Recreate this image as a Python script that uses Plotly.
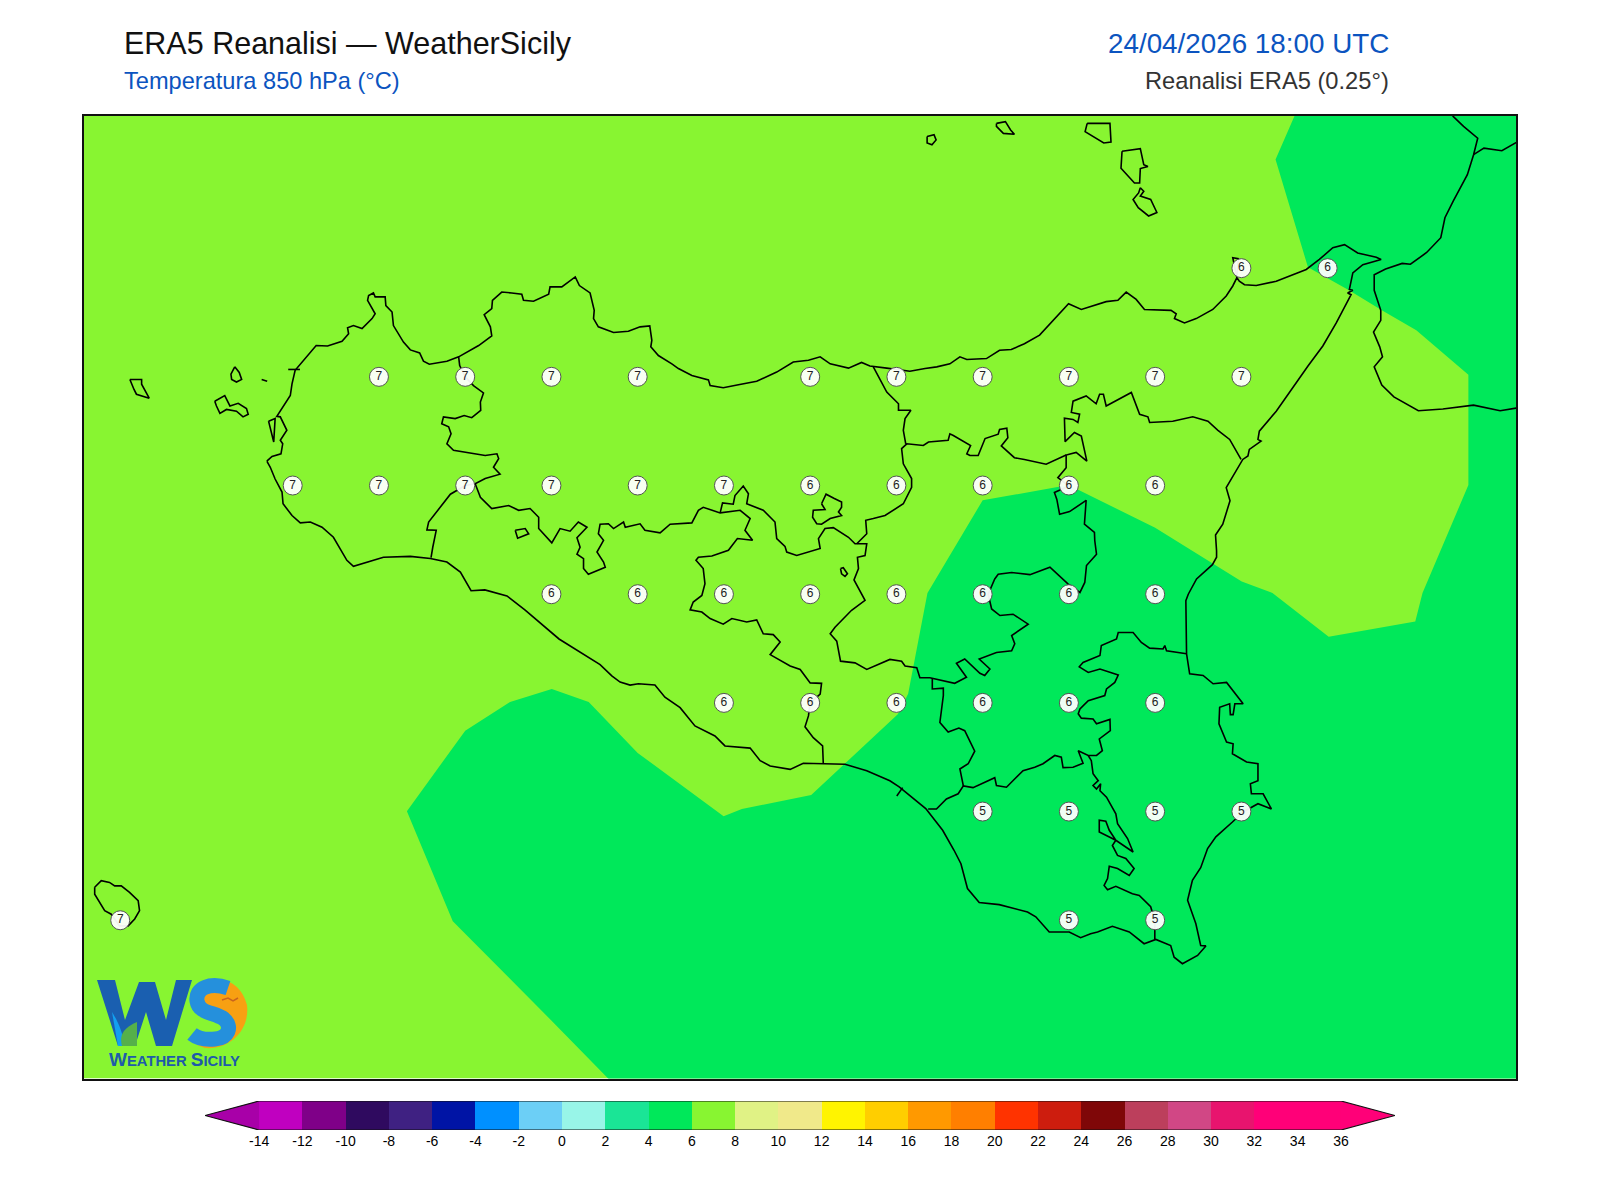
import plotly.graph_objects as go

# ===== DATA =====
# Grid point values (ERA5 0.25 deg), temperature at 850 hPa
label_lon = [15.25, 15.5,
             12.75, 13.0, 13.25, 13.5, 14.0, 14.25, 14.5, 14.75, 15.0, 15.25,
             12.5, 12.75, 13.0, 13.25, 13.5, 13.75, 14.0, 14.25, 14.5, 14.75, 15.0,
             13.25, 13.5, 13.75, 14.0, 14.25, 14.5, 14.75, 15.0,
             13.75, 14.0, 14.25, 14.5, 14.75, 15.0,
             14.5, 14.75, 15.0, 15.25,
             12.0, 14.75, 15.0]
label_lat = [38.25, 38.25,
             38.0, 38.0, 38.0, 38.0, 38.0, 38.0, 38.0, 38.0, 38.0, 38.0,
             37.75, 37.75, 37.75, 37.75, 37.75, 37.75, 37.75, 37.75, 37.75, 37.75, 37.75,
             37.5, 37.5, 37.5, 37.5, 37.5, 37.5, 37.5, 37.5,
             37.25, 37.25, 37.25, 37.25, 37.25, 37.25,
             37.0, 37.0, 37.0, 37.0,
             36.75, 36.75, 36.75]
label_val = [6, 6,
             7, 7, 7, 7, 7, 7, 7, 7, 7, 7,
             7, 7, 7, 7, 7, 7, 6, 6, 6, 6, 6,
             6, 6, 6, 6, 6, 6, 6, 6,
             6, 6, 6, 6, 6, 6,
             5, 5, 5, 5,
             7, 5, 5]

# Colour scale
scale_ticks = [-14, -12, -10, -8, -6, -4, -2, 0, 2, 4, 6, 8, 10, 12, 14, 16, 18, 20, 22, 24, 26, 28, 30, 32, 34, 36]
scale_colors = ["#C000C0", "#7F0088", "#2F0A5F", "#3F2182", "#0014A5", "#0090FF", "#6CCFF6", "#98F5E8",
                "#1AE596", "#00E85A", "#88F531", "#E0F285", "#F0E98A", "#FFF400", "#FFCE00", "#FF9900",
                "#FF7F00", "#FF3300", "#CD1D0E", "#7F0708", "#BC3F5C", "#D14785", "#E8146E", "#FF0078", "#FF0078"]
under_color = "#A800A8"
over_color = "#FF0078"

# Map extent
lon_range = [11.895, 16.046]
lat_range = [36.386, 38.600]

# Filled contour 4-6 degC, the rest of the map is in the 6-8 band
contour_4_6 = [(13.423, 36.379), (13.249, 36.520), (12.964, 36.748), (12.831, 37.001), (13.0, 37.186), (13.130, 37.252),
               (13.251, 37.282), (13.358, 37.252), (13.5, 37.135), (13.749, 36.989), (13.802, 37.006), (14.003, 37.038),
               (14.254, 37.224), (14.284, 37.271), (14.340, 37.503), (14.5, 37.716), (14.749, 37.751), (15.0, 37.653),
               (15.251, 37.529), (15.340, 37.503), (15.503, 37.402), (15.754, 37.437), (15.775, 37.503), (15.908, 37.751),
               (15.908, 38.005), (15.757, 38.107), (15.657, 38.153), (15.562, 38.199), (15.443, 38.252), (15.349, 38.500),
               (15.405, 38.602), (16.052, 38.602), (16.052, 36.379), (13.423, 36.379)]

# Sicily coastline
sicily = [(12.425, 37.806), (12.440, 37.817), (12.466, 37.823), (12.471, 37.846), (12.464, 37.854), (12.483, 37.877),
          (12.464, 37.908), (12.454, 37.909), (12.493, 37.957), (12.498, 37.984), (12.507, 38.015), (12.527, 38.034),
          (12.568, 38.072), (12.601, 38.071), (12.643, 38.082), (12.662, 38.099), (12.659, 38.113), (12.676, 38.118),
          (12.701, 38.111), (12.730, 38.134), (12.739, 38.145), (12.717, 38.176), (12.720, 38.187), (12.734, 38.193),
          (12.739, 38.184), (12.768, 38.184), (12.770, 38.164), (12.788, 38.149), (12.792, 38.118), (12.821, 38.080),
          (12.841, 38.062), (12.868, 38.055), (12.879, 38.036), (12.896, 38.029), (12.947, 38.036), (12.981, 38.046),
          (13.039, 38.072), (13.077, 38.094), (13.073, 38.115), (13.055, 38.143), (13.077, 38.157), (13.079, 38.176),
          (13.106, 38.195), (13.135, 38.193), (13.164, 38.190), (13.169, 38.176), (13.198, 38.174), (13.242, 38.190),
          (13.246, 38.207), (13.280, 38.207), (13.319, 38.230), (13.331, 38.210), (13.362, 38.193), (13.374, 38.153),
          (13.372, 38.134), (13.386, 38.115), (13.430, 38.102), (13.473, 38.105), (13.507, 38.115), (13.535, 38.117),
          (13.541, 38.084), (13.538, 38.069), (13.560, 38.049), (13.599, 38.030), (13.618, 38.019), (13.657, 38.003),
          (13.705, 37.993), (13.710, 37.980), (13.748, 37.975), (13.792, 37.982), (13.845, 37.990), (13.903, 38.011),
          (13.951, 38.034), (13.995, 38.038), (14.029, 38.046), (14.058, 38.030), (14.111, 38.020), (14.149, 38.033),
          (14.173, 38.025), (14.222, 38.020), (14.289, 38.013), (14.333, 38.019), (14.367, 38.023), (14.405, 38.030),
          (14.434, 38.046), (14.454, 38.040), (14.511, 38.042), (14.549, 38.061), (14.583, 38.063), (14.621, 38.076),
          (14.665, 38.096), (14.749, 38.168), (14.786, 38.155), (14.858, 38.173), (14.892, 38.176), (14.916, 38.195),
          (14.945, 38.178), (14.969, 38.155), (15.046, 38.153), (15.061, 38.145), (15.056, 38.134), (15.085, 38.124),
          (15.119, 38.134), (15.167, 38.155), (15.206, 38.186), (15.225, 38.209), (15.237, 38.228), (15.225, 38.274),
          (15.241, 38.272), (15.237, 38.228), (15.244, 38.220), (15.259, 38.212), (15.293, 38.210), (15.351, 38.220),
          (15.438, 38.247), (15.476, 38.270), (15.515, 38.297), (15.549, 38.304), (15.587, 38.285), (15.641, 38.275),
          (15.655, 38.270), (15.602, 38.258), (15.573, 38.239), (15.563, 38.201), (15.573, 38.199), (15.558, 38.193),
          (15.568, 38.189), (15.525, 38.124), (15.486, 38.071), (15.443, 38.025), (15.351, 37.921), (15.302, 37.875),
          (15.298, 37.856), (15.307, 37.852), (15.273, 37.833), (15.269, 37.818), (15.254, 37.810), (15.206, 37.745),
          (15.217, 37.715), (15.196, 37.661), (15.175, 37.636), (15.178, 37.600), (15.178, 37.585), (15.166, 37.568),
          (15.120, 37.535), (15.096, 37.500), (15.089, 37.485), (15.091, 37.363), (15.100, 37.317), (15.139, 37.313),
          (15.168, 37.294), (15.207, 37.297), (15.255, 37.248), (15.231, 37.248), (15.226, 37.223), (15.218, 37.223),
          (15.216, 37.248), (15.187, 37.240), (15.185, 37.202), (15.207, 37.160), (15.226, 37.156), (15.224, 37.133),
          (15.265, 37.114), (15.298, 37.110), (15.298, 37.071), (15.276, 37.064), (15.279, 37.041), (15.313, 37.041),
          (15.337, 37.006), (15.298, 37.018), (15.255, 36.999), (15.224, 36.976), (15.176, 36.942), (15.152, 36.915),
          (15.132, 36.871), (15.108, 36.842), (15.094, 36.796), (15.118, 36.742), (15.132, 36.692), (15.147, 36.691),
          (15.123, 36.669), (15.079, 36.650), (15.055, 36.665), (15.045, 36.692), (15.002, 36.706), (14.968, 36.696),
          (14.925, 36.723), (14.876, 36.736), (14.833, 36.723), (14.813, 36.719), (14.784, 36.710), (14.751, 36.723),
          (14.693, 36.723), (14.654, 36.758), (14.630, 36.769), (14.548, 36.786), (14.490, 36.791), (14.456, 36.823),
          (14.437, 36.880), (14.417, 36.911), (14.384, 36.957), (14.335, 37.007), (14.258, 37.057), (14.231, 37.071),
          (14.164, 37.094), (14.101, 37.109), (14.038, 37.110), (13.980, 37.111), (13.942, 37.097), (13.917, 37.101),
          (13.884, 37.105), (13.855, 37.117), (13.826, 37.146), (13.753, 37.151), (13.724, 37.174), (13.666, 37.197),
          (13.623, 37.239), (13.579, 37.263), (13.550, 37.291), (13.502, 37.294), (13.478, 37.291), (13.449, 37.298),
          (13.425, 37.312), (13.391, 37.338), (13.272, 37.397), (13.173, 37.464), (13.121, 37.496), (13.057, 37.510),
          (13.017, 37.508), (12.986, 37.551), (12.947, 37.574), (12.899, 37.582), (12.841, 37.587), (12.763, 37.585),
          (12.676, 37.564), (12.657, 37.578), (12.618, 37.631), (12.585, 37.654), (12.551, 37.666), (12.522, 37.664),
          (12.498, 37.681), (12.472, 37.708), (12.469, 37.735), (12.449, 37.765), (12.435, 37.792), (12.425, 37.806)]

# Calabria
calabria = [(15.850, 38.620), (15.864, 38.599), (15.894, 38.576), (15.935, 38.549), (15.923, 38.511), (15.905, 38.465),
            (15.864, 38.404), (15.840, 38.366), (15.828, 38.320), (15.787, 38.286), (15.740, 38.259), (15.716, 38.261),
            (15.668, 38.248), (15.635, 38.235), (15.635, 38.199), (15.654, 38.153), (15.654, 38.130), (15.633, 38.103),
            (15.651, 38.069), (15.659, 38.046), (15.635, 38.023), (15.657, 37.981), (15.692, 37.954), (15.763, 37.922),
            (15.834, 37.926), (15.923, 37.935), (16.000, 37.922), (16.060, 37.930)]
calabria_branch = [(15.923, 38.511), (15.953, 38.526), (16.005, 38.520), (16.060, 38.545)]

# Minor islands
islands = [
    [(12.028, 37.994), (12.062, 37.994), (12.062, 37.983), (12.084, 37.951), (12.047, 37.960), (12.040, 37.971), (12.028, 37.994)],
    [(12.274, 37.944), (12.303, 37.957), (12.318, 37.933), (12.342, 37.939), (12.366, 37.927), (12.371, 37.914), (12.356, 37.908),
     (12.337, 37.921), (12.308, 37.925), (12.289, 37.916), (12.279, 37.933), (12.274, 37.944)],
    [(12.332, 38.023), (12.345, 38.010), (12.352, 37.994), (12.337, 37.988), (12.323, 37.994), (12.321, 38.006), (12.332, 38.023)],
    [(12.410, 37.994), (12.426, 37.990)],
    [(12.487, 38.017), (12.521, 38.017)],
    [(12.430, 37.898), (12.449, 37.904), (12.445, 37.850), (12.430, 37.898)],
    [(11.926, 36.826), (11.945, 36.841), (11.969, 36.837), (11.984, 36.829), (12.003, 36.829), (12.027, 36.814), (12.052, 36.795),
     (12.056, 36.772), (12.042, 36.753), (12.023, 36.737), (11.998, 36.737), (11.974, 36.764), (11.955, 36.772), (11.940, 36.791),
     (11.926, 36.810), (11.926, 36.826)],
    [(14.339, 38.553), (14.359, 38.557), (14.365, 38.545), (14.353, 38.534), (14.339, 38.538), (14.339, 38.553)],
    [(14.540, 38.583), (14.566, 38.587), (14.581, 38.568), (14.592, 38.558), (14.560, 38.560), (14.540, 38.576), (14.540, 38.583)],
    [(14.803, 38.583), (14.869, 38.583), (14.872, 38.540), (14.851, 38.538), (14.797, 38.564), (14.803, 38.583)],
    [(14.904, 38.519), (14.957, 38.525), (14.967, 38.488), (14.979, 38.484), (14.957, 38.479), (14.955, 38.446), (14.940, 38.446),
     (14.901, 38.480), (14.904, 38.519)],
    [(14.957, 38.435), (14.967, 38.427), (14.957, 38.416), (14.987, 38.408), (15.005, 38.378), (14.981, 38.370), (14.951, 38.389),
     (14.936, 38.408), (14.952, 38.423), (14.957, 38.435)],
]

# Province borders
trapani_border = [(12.981, 38.046), (12.984, 38.026), (13.000, 38.000), (13.024, 37.980), (13.053, 37.963), (13.044, 37.942),
                  (13.045, 37.923), (13.019, 37.906), (12.997, 37.911), (12.971, 37.904), (12.937, 37.908), (12.932, 37.892),
                  (12.952, 37.885), (12.959, 37.869), (12.947, 37.846), (12.966, 37.831), (13.058, 37.819), (13.092, 37.823),
                  (13.097, 37.812), (13.082, 37.792), (13.101, 37.776), (13.058, 37.766), (13.029, 37.754), (13.000, 37.750),
                  (12.957, 37.730), (12.918, 37.689), (12.894, 37.666), (12.889, 37.648), (12.916, 37.647), (12.906, 37.608),
                  (12.901, 37.584)]
agrigento_border = [(13.029, 37.754), (13.044, 37.723), (13.077, 37.697), (13.126, 37.704), (13.155, 37.693), (13.188, 37.697),
                    (13.213, 37.677), (13.213, 37.651), (13.251, 37.618), (13.275, 37.651), (13.304, 37.645), (13.328, 37.666),
                    (13.353, 37.654), (13.324, 37.630), (13.333, 37.608), (13.324, 37.592), (13.343, 37.582), (13.343, 37.559),
                    (13.357, 37.546), (13.406, 37.562), (13.401, 37.574), (13.382, 37.597), (13.401, 37.624), (13.386, 37.639),
                    (13.391, 37.661), (13.415, 37.662), (13.430, 37.651), (13.459, 37.666), (13.464, 37.654), (13.507, 37.662),
                    (13.521, 37.647), (13.565, 37.641), (13.594, 37.661), (13.657, 37.664), (13.676, 37.693), (13.690, 37.700),
                    (13.739, 37.687), (13.797, 37.693), (13.806, 37.687), (13.826, 37.674), (13.811, 37.647), (13.833, 37.624),
                    (13.789, 37.628), (13.763, 37.601), (13.715, 37.588), (13.676, 37.585), (13.669, 37.578), (13.690, 37.559),
                    (13.695, 37.524), (13.686, 37.497), (13.661, 37.482), (13.652, 37.464), (13.686, 37.459), (13.710, 37.444),
                    (13.748, 37.431), (13.773, 37.444), (13.816, 37.436), (13.845, 37.441), (13.864, 37.409), (13.893, 37.407),
                    (13.913, 37.390), (13.884, 37.361), (13.942, 37.335), (13.971, 37.327), (14.000, 37.296), (14.033, 37.295),
                    (14.029, 37.270), (14.000, 37.250), (13.995, 37.220), (13.985, 37.195), (14.009, 37.170), (14.036, 37.151),
                    (14.038, 37.110)]
central_border = [(13.739, 37.687), (13.746, 37.710), (13.777, 37.707), (13.782, 37.727), (13.806, 37.749), (13.821, 37.731),
                  (13.816, 37.708), (13.864, 37.693), (13.898, 37.666), (13.903, 37.628), (13.927, 37.610), (13.932, 37.597),
                  (13.961, 37.589), (14.029, 37.605), (14.024, 37.628), (14.043, 37.651), (14.067, 37.653), (14.111, 37.631),
                  (14.130, 37.616), (14.164, 37.616), (14.159, 37.589), (14.137, 37.585), (14.140, 37.559), (14.127, 37.533),
                  (14.159, 37.486), (14.120, 37.463), (14.072, 37.424), (14.058, 37.409), (14.067, 37.401), (14.077, 37.392),
                  (14.088, 37.346), (14.130, 37.342), (14.164, 37.327), (14.231, 37.350), (14.265, 37.346), (14.275, 37.335),
                  (14.309, 37.331), (14.318, 37.308), (14.347, 37.308), (14.391, 37.299), (14.419, 37.295), (14.453, 37.309),
                  (14.424, 37.341), (14.448, 37.351), (14.492, 37.318), (14.506, 37.313), (14.521, 37.328), (14.490, 37.351),
                  (14.540, 37.366), (14.584, 37.370), (14.593, 37.386), (14.584, 37.405), (14.632, 37.431), (14.588, 37.454),
                  (14.550, 37.451), (14.526, 37.466), (14.516, 37.500), (14.535, 37.535), (14.545, 37.546), (14.584, 37.550),
                  (14.637, 37.545), (14.695, 37.562), (14.748, 37.523), (14.782, 37.504), (14.796, 37.527), (14.801, 37.566),
                  (14.830, 37.592), (14.825, 37.623), (14.824, 37.642), (14.795, 37.661), (14.800, 37.716), (14.752, 37.690),
                  (14.723, 37.684), (14.715, 37.718), (14.708, 37.734), (14.750, 37.749), (14.718, 37.768), (14.742, 37.791),
                  (14.742, 37.820), (14.771, 37.826), (14.802, 37.806), (14.786, 37.864), (14.766, 37.872), (14.739, 37.851),
                  (14.737, 37.905), (14.762, 37.902), (14.776, 37.895), (14.781, 37.914), (14.757, 37.918), (14.762, 37.944),
                  (14.800, 37.956), (14.829, 37.938), (14.839, 37.960), (14.850, 37.960), (14.858, 37.933), (14.931, 37.964),
                  (14.955, 37.914), (14.979, 37.908), (14.984, 37.895), (15.051, 37.898), (15.109, 37.908), (15.153, 37.898),
                  (15.182, 37.877), (15.216, 37.856), (15.249, 37.810)]
messina_enna_border = [(14.742, 37.820), (14.684, 37.799), (14.621, 37.810), (14.592, 37.814), (14.554, 37.841), (14.573, 37.860),
                       (14.570, 37.882), (14.549, 37.879), (14.545, 37.868), (14.507, 37.858), (14.487, 37.819), (14.463, 37.819),
                       (14.454, 37.823), (14.465, 37.842), (14.415, 37.865), (14.405, 37.869), (14.400, 37.854), (14.343, 37.850),
                       (14.328, 37.842), (14.280, 37.846), (14.265, 37.835), (14.270, 37.800), (14.294, 37.766), (14.294, 37.746),
                       (14.270, 37.708), (14.217, 37.681), (14.183, 37.674), (14.161, 37.670), (14.164, 37.639), (14.135, 37.616)]
messina_palermo_border = [(14.183, 38.023), (14.222, 37.965), (14.256, 37.938), (14.256, 37.923), (14.292, 37.923), (14.275, 37.904),
                          (14.270, 37.877), (14.277, 37.846)]
enclave_enna = [(14.033, 37.708), (14.046, 37.730), (14.070, 37.720), (14.091, 37.712), (14.091, 37.700), (14.082, 37.689),
                (14.091, 37.681), (14.058, 37.674), (14.033, 37.661), (14.019, 37.662), (14.007, 37.677), (14.009, 37.693),
                (14.043, 37.695), (14.033, 37.708)]
lake_pergusa = [(14.088, 37.559), (14.096, 37.561), (14.108, 37.547), (14.101, 37.541), (14.091, 37.547), (14.088, 37.559)]
enclave_agrigento = [(13.145, 37.647), (13.174, 37.651), (13.184, 37.639), (13.152, 37.629), (13.145, 37.647)]
catania_border = [(15.091, 37.363), (15.033, 37.370), (15.028, 37.382), (15.023, 37.374), (14.984, 37.376), (14.960, 37.389),
                  (14.936, 37.412), (14.893, 37.412), (14.888, 37.397), (14.844, 37.382), (14.840, 37.359), (14.791, 37.343),
                  (14.780, 37.333), (14.806, 37.320), (14.840, 37.328), (14.893, 37.314), (14.883, 37.297), (14.859, 37.282),
                  (14.854, 37.267), (14.806, 37.255), (14.782, 37.236), (14.777, 37.225), (14.786, 37.215), (14.820, 37.213),
                  (14.830, 37.202), (14.869, 37.212), (14.870, 37.186), (14.838, 37.167), (14.847, 37.140), (14.830, 37.129),
                  (14.806, 37.129), (14.777, 37.140), (14.791, 37.111), (14.762, 37.102), (14.733, 37.101), (14.728, 37.125),
                  (14.709, 37.129), (14.675, 37.110), (14.651, 37.102), (14.617, 37.094), (14.569, 37.056), (14.540, 37.060),
                  (14.535, 37.078), (14.472, 37.055), (14.444, 37.059), (14.429, 37.041), (14.395, 37.029), (14.366, 37.006),
                  (14.342, 37.006)]
caltagirone_border = [(14.444, 37.059), (14.434, 37.098), (14.458, 37.110), (14.477, 37.139), (14.448, 37.186), (14.431, 37.192),
                      (14.400, 37.183), (14.376, 37.205), (14.386, 37.267), (14.386, 37.284), (14.354, 37.282), (14.354, 37.307)]
ragusa_border = [(14.806, 37.129), (14.815, 37.117), (14.820, 37.087), (14.835, 37.071), (14.820, 37.060), (14.830, 37.052),
                 (14.842, 37.064), (14.840, 37.048), (14.859, 37.033), (14.886, 36.995), (14.891, 36.972), (14.920, 36.938),
                 (14.936, 36.907), (14.886, 36.934), (14.838, 36.953), (14.838, 36.980), (14.857, 36.978), (14.867, 36.957),
                 (14.886, 36.934), (14.876, 36.922), (14.891, 36.899), (14.915, 36.892), (14.939, 36.869), (14.925, 36.853),
                 (14.891, 36.869), (14.867, 36.874), (14.862, 36.846), (14.852, 36.830), (14.862, 36.820), (14.886, 36.828),
                 (14.934, 36.811), (14.954, 36.807), (14.987, 36.781), (14.999, 36.750), (14.999, 36.706)]
gela_stub = [(14.251, 37.036), (14.268, 37.055)]

borders = [trapani_border, agrigento_border, central_border, messina_enna_border, messina_palermo_border,
           enclave_enna, lake_pergusa, enclave_agrigento, catania_border, caltagirone_border, ragusa_border,
           gela_stub, calabria, calabria_branch, sicily] + islands

# ===== COLOURS =====
band_6_8 = "#88F531"
band_4_6 = "#00E85A"
ink = "#000000"


def flatten(lines):
    # one trace for all outlines, None breaks the line between them
    xs, ys = [], []
    for line in lines:
        xs += [p[0] for p in line] + [None]
        ys += [p[1] for p in line] + [None]
    return xs, ys


fig = go.Figure()

# ===== MAP =====
fig.add_trace(go.Scatter(x=[lon_range[0], lon_range[1], lon_range[1], lon_range[0], lon_range[0]],
                         y=[lat_range[0], lat_range[0], lat_range[1], lat_range[1], lat_range[0]],
                         fill="toself", fillcolor=band_6_8, mode="lines", line=dict(width=0, color=band_6_8),
                         hoverinfo="skip"))
fig.add_trace(go.Scatter(x=[p[0] for p in contour_4_6], y=[p[1] for p in contour_4_6],
                         fill="toself", fillcolor=band_4_6, mode="lines", line=dict(width=0, color=band_4_6),
                         hoverinfo="skip"))
border_x, border_y = flatten(borders)
fig.add_trace(go.Scatter(x=border_x, y=border_y, mode="lines", line=dict(color=ink, width=1.6), hoverinfo="skip"))
fig.add_trace(go.Scatter(x=label_lon, y=label_lat, mode="markers+text", text=[str(v) for v in label_val],
                         textposition="middle center", textfont=dict(size=12, color="#222222"),
                         marker=dict(size=19, color="rgba(255,255,255,0.94)", line=dict(color="#555555", width=1)),
                         hovertemplate="%{text} °C<extra></extra>"))

# ===== COLOUR BAR =====
mids = [(a + b) / 2 for a, b in zip(scale_ticks[:-1], scale_ticks[1:])]
fig.add_trace(go.Bar(x=mids, y=[1] * len(mids), width=2, marker=dict(color=scale_colors, line=dict(width=0)),
                     xaxis="x2", yaxis="y2", hoverinfo="skip"))
tip_low = -16.5
tip_high = 38.5
fig.add_trace(go.Scatter(x=[scale_ticks[0], tip_low, scale_ticks[0], scale_ticks[0]], y=[0, 0.5, 1, 0],
                         fill="toself", fillcolor=under_color, mode="lines", line=dict(width=0),
                         xaxis="x2", yaxis="y2", hoverinfo="skip"))
fig.add_trace(go.Scatter(x=[scale_ticks[-1], tip_high, scale_ticks[-1], scale_ticks[-1]], y=[0, 0.5, 1, 0],
                         fill="toself", fillcolor=over_color, mode="lines", line=dict(width=0),
                         xaxis="x2", yaxis="y2", hoverinfo="skip"))
fig.add_trace(go.Scatter(x=[scale_ticks[0], tip_low, scale_ticks[0], scale_ticks[-1], tip_high, scale_ticks[-1], scale_ticks[0]],
                         y=[0, 0.5, 1, 1, 0.5, 0, 0], mode="lines", line=dict(color="#111111", width=1.2),
                         xaxis="x2", yaxis="y2", hoverinfo="skip"))

# ===== LAYOUT =====
# page body keeps its 8px margin, so the figure is 16px smaller than the window
W, H = 1584, 1184


def px(x):
    return (x - 8) / W


def py(y):
    return 1 - (y - 8) / H


fig.update_layout(
    width=W, height=H, autosize=False, showlegend=False, bargap=0,
    margin=dict(l=0, r=0, t=0, b=0),
    paper_bgcolor="white", plot_bgcolor="white",
    font=dict(family="Liberation Sans, Arial, sans-serif", color="black"),
    xaxis=dict(domain=[px(84), px(1516)], range=lon_range, showgrid=False, zeroline=False, showticklabels=False,
               ticks="", showline=True, mirror=True, linecolor="#111111", linewidth=1.5),
    yaxis=dict(domain=[py(1078.5), py(116)], range=lat_range, showgrid=False, zeroline=False, showticklabels=False,
               ticks="", showline=True, mirror=True, linecolor="#111111", linewidth=1.5),
    xaxis2=dict(domain=[px(205), px(1395)], range=[tip_low, tip_high], anchor="y2", tickvals=scale_ticks,
                ticktext=[str(t) for t in scale_ticks], tickfont=dict(size=14, color="black"), ticks="",
                ticklabelstandoff=1, showgrid=False, zeroline=False, showline=False),
    yaxis2=dict(domain=[py(1130), py(1101)], range=[0, 1], anchor="x2", showgrid=False, zeroline=False,
                showticklabels=False, ticks="", showline=False),
)


def label(text, x, y, size, color, anchor="left", bold=False):
    fig.add_annotation(text=f"<b>{text}</b>" if bold else text, x=px(x), y=py(y), xref="paper", yref="paper",
                       showarrow=False, xanchor=anchor, yanchor="middle", font=dict(size=size, color=color))


label("ERA5 Reanalisi — WeatherSicily", 122, 43, 30.5, "#111111")
label("Temperatura 850 hPa (°C)", 122, 80.5, 23.6, "#0B54C0")
label("24/04/2026 18:00 UTC", 1391, 44, 27.8, "#0B54C0", anchor="right")
label("Reanalisi ERA5 (0.25°)", 1391, 80.5, 23.7, "#333333", anchor="right")


# ===== LOGO =====
def logo_path(spec):
    # spec is "M x y L x y ..." in window pixels, plotly wants paper fractions
    out, is_x = [], True
    for tok in spec.split():
        if tok.isalpha():
            out.append(tok)
            is_x = True
        else:
            out.append(f"{px(float(tok)) if is_x else py(float(tok)):.5f}")
            is_x = not is_x
    return " ".join(out)


def logo_shape(spec, fill=None, stroke=None, width=0):
    fig.add_shape(type="path", xref="paper", yref="paper", path=logo_path(spec),
                  fillcolor=fill if fill else "rgba(0,0,0,0)",
                  line=dict(width=width, color=stroke if stroke else "rgba(0,0,0,0)"))


logo_shape("M 205 985 C 215 975 240 978 247 1005 C 250 1030 230 1050 205 1048 C 200 1046 196 1045 195 1042 "
           "L 230 1030 L 215 1010 L 200 1000 Z", fill="#F7A012")
logo_shape("M 97 980 L 115 980 L 125 1020 L 139 982 L 155 982 L 166 1020 L 176 980 L 192 980 L 172 1046 "
           "L 156 1046 L 146 1012 L 135 1046 L 118 1046 Z", fill="#1A5FB0")
logo_shape("M 112 1012 C 118 1022 122 1030 125 1046 L 118 1046 Z", fill="#12A0F0")
logo_shape("M 122 1046 C 118 1032 128 1026 137 1022 L 137 1046 Z", fill="#55B04A")
logo_shape("M 228 988 C 210 982 195 988 197 1001 C 199 1014 215 1012 224 1019 C 233 1027 228 1038 215 1039 "
           "C 205 1040 197 1038 192 1034", stroke="#2590DC", width=15)
logo_shape("M 222 1000 L 228 998 L 233 1001 L 238 998", stroke="#C8641E", width=1.5)

fig.add_annotation(
    text="<b><span style='font-size:19px'>W</span>EATHER <span style='font-size:19px'>S</span>ICILY</b>",
    x=px(174), y=py(1059), xref="paper", yref="paper", showarrow=False, xanchor="center", yanchor="middle",
    font=dict(size=14.8, color="#1E5BAA"))

fig.write_html("out.html")
